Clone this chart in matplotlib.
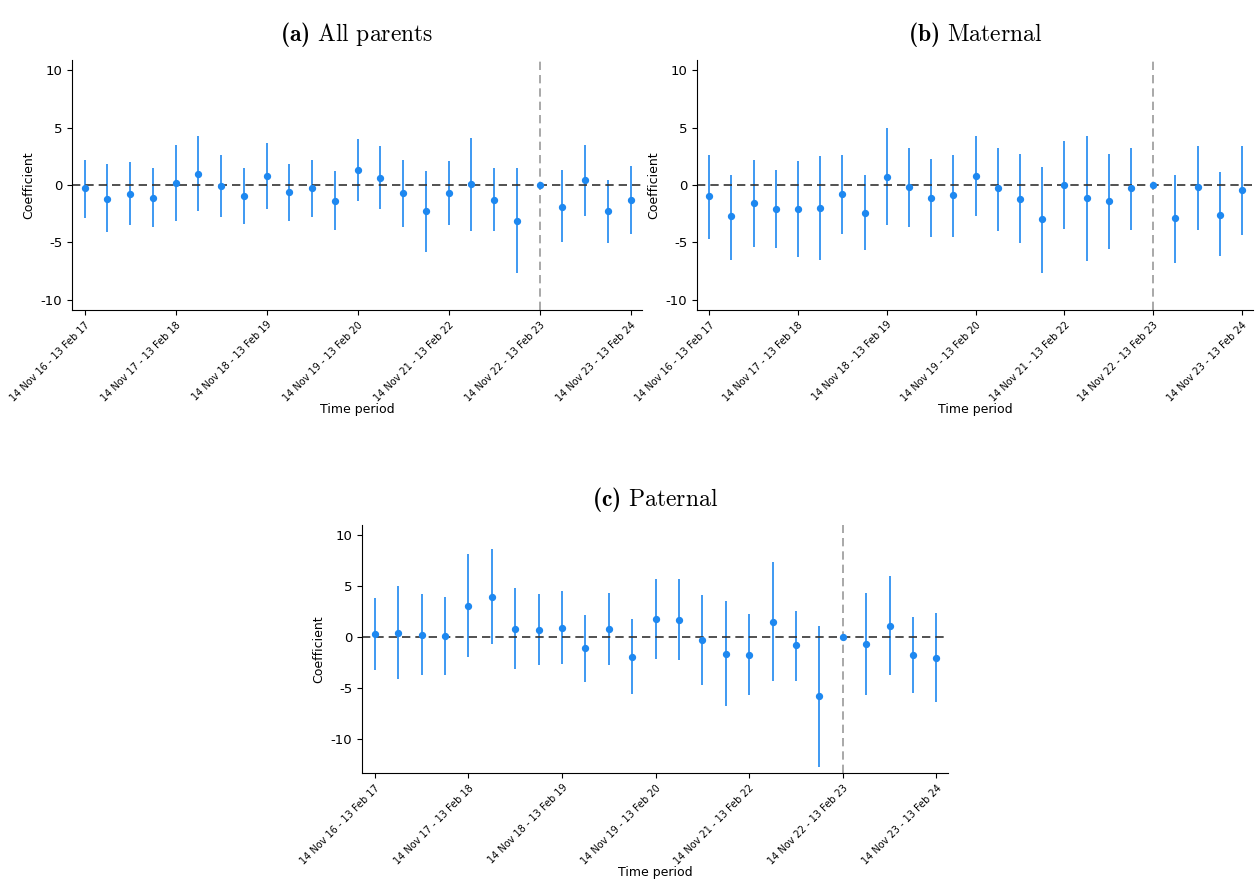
import matplotlib
matplotlib.use("Agg")
import matplotlib.pyplot as plt

plt.rcParams["mathtext.fontset"] = "custom"
plt.rcParams["mathtext.rm"] = "cmr10"
plt.rcParams["mathtext.bf"] = "cmb10"
plt.rcParams["axes.formatter.use_mathtext"] = False

tick_labels = ["14 Nov 16 - 13 Feb 17", "14 Nov 17 - 13 Feb 18", "14 Nov 18 - 13 Feb 19",
               "14 Nov 19 - 13 Feb 20", "14 Nov 21 - 13 Feb 22", "14 Nov 22 - 13 Feb 23",
               "14 Nov 23 - 13 Feb 24"]
ref_period = 20

all_coef = [-0.3, -1.2, -0.8, -1.1, 0.2, 1.0, -0.1, -1.0, 0.8, -0.6, -0.3, -1.4, 1.3,
            0.6, -0.7, -2.3, -0.7, 0.1, -1.3, -3.1, 0.0, -1.9, 0.4, -2.3, -1.3]
all_hi = [2.2, 1.8, 2.0, 1.5, 3.5, 4.3, 2.6, 1.5, 3.7, 1.8, 2.2, 1.2, 4.0,
          3.4, 2.2, 1.2, 2.1, 4.1, 1.5, 1.5, 0.0, 1.3, 3.5, 0.4, 1.7]
all_lo = [-2.9, -4.1, -3.5, -3.7, -3.1, -2.3, -2.8, -3.4, -2.1, -3.1, -2.8, -3.9, -1.4,
          -2.1, -3.7, -5.8, -3.5, -4.0, -4.0, -7.7, 0.0, -5.0, -2.7, -5.1, -4.3]

mat_coef = [-1.0, -2.7, -1.6, -2.1, -2.1, -2.0, -0.8, -2.4, 0.7, -0.2, -1.1, -0.9, 0.8,
            -0.3, -1.2, -3.0, 0.0, -1.1, -1.4, -0.3, 0.0, -2.9, -0.2, -2.6, -0.4]
mat_hi = [2.6, 0.9, 2.2, 1.3, 2.1, 2.5, 2.6, 0.9, 5.0, 3.2, 2.3, 2.6, 4.3,
          3.2, 2.7, 1.6, 3.8, 4.3, 2.7, 3.2, 0.0, 0.9, 3.4, 1.1, 3.4]
mat_lo = [-4.7, -6.5, -5.4, -5.5, -6.3, -6.5, -4.3, -5.7, -3.5, -3.7, -4.5, -4.5, -2.7,
          -4.0, -5.1, -7.7, -3.8, -6.6, -5.6, -3.9, 0.0, -6.8, -3.9, -6.2, -4.4]

pat_coef = [0.3, 0.4, 0.2, 0.1, 3.1, 3.9, 0.8, 0.7, 0.9, -1.1, 0.8, -1.9, 1.8,
            1.7, -0.3, -1.6, -1.7, 1.5, -0.8, -5.8, 0.0, -0.7, 1.1, -1.7, -2.0]
pat_hi = [3.8, 5.0, 4.2, 3.9, 8.2, 8.6, 4.8, 4.2, 4.5, 2.2, 4.3, 1.8, 5.7,
          5.7, 4.1, 3.6, 2.3, 7.4, 2.6, 1.1, 0.0, 4.3, 6.0, 2.0, 2.4]
pat_lo = [-3.2, -4.1, -3.7, -3.7, -1.9, -0.7, -3.1, -2.7, -2.6, -4.4, -2.7, -5.6, -2.1,
          -2.2, -4.7, -6.7, -5.7, -4.3, -4.3, -12.7, 0.0, -5.7, -3.7, -5.5, -6.3]

BLUE = "#1e88f0"
W, H = 1259, 888


def panel(rect, title, coef, lo, hi, ylim):
    l, t, r, b = rect
    ax = fig.add_axes([l / W, 1 - b / H, (r - l) / W, (b - t) / H])
    x = list(range(len(coef)))
    ax.vlines(x, lo, hi, color=BLUE, lw=1.2)
    ax.scatter(x, coef, color=BLUE, s=18, zorder=3)
    ax.axhline(0, color="#333333", ls="--", lw=1.2, dashes=(5, 3))
    ax.axvline(ref_period, color="#999999", ls="--", lw=1.2, dashes=(5, 3))
    ax.set_xlim(-0.55, len(coef) - 0.5)
    ax.set_ylim(*ylim)
    ax.set_yticks([10, 5, 0, -5, -10])
    ax.set_yticklabels(["10", "5", "0", "-5", "-10"])
    ax.set_xticks(range(0, len(coef), 4))
    ax.set_xticklabels(tick_labels, rotation=45, ha="right", rotation_mode="anchor")
    ax.tick_params(axis="y", labelsize=9.5)
    ax.tick_params(axis="x", labelsize=7)
    for s in ("top", "right"):
        ax.spines[s].set_visible(False)
    ax.set_ylabel("Coefficient", fontsize=9)
    ax.set_xlabel("Time period", fontsize=9, labelpad=0)
    ax.set_title(title, fontsize=17, pad=14)
    return ax


fig = plt.figure(figsize=(W / 100, H / 100), dpi=100)
panel((72, 60, 642, 310), r"$\mathbf{(a)}\ \mathrm{All\ parents}$", all_coef, all_lo, all_hi, (-10.9, 10.9))
panel((697, 60, 1253, 310), r"$\mathbf{(b)}\ \mathrm{Maternal}$", mat_coef, mat_lo, mat_hi, (-10.9, 10.9))
panel((362, 525, 948, 773), r"$\mathbf{(c)}\ \mathrm{Paternal}$", pat_coef, pat_lo, pat_hi, (-13.3, 11.0))

fig.savefig("out.png", dpi=100)
